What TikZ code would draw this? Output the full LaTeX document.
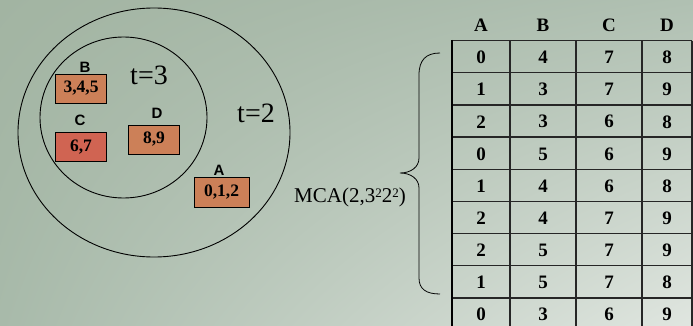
\documentclass[tikz,border=0pt]{standalone}
\usepackage{fontspec}
\setmainfont{Liberation Serif}
\newfontfamily\arialf{Liberation Sans}
\usetikzlibrary{shapes.geometric,shadings}
\definecolor{boxor}{RGB}{204,128,88}
\definecolor{boxred}{RGB}{208,100,82}
\definecolor{bgul}{RGB}{162,180,162}
\definecolor{bgur}{RGB}{176,192,178}
\definecolor{bgll}{RGB}{168,186,170}
\definecolor{bglr}{RGB}{224,230,224}
\newcommand{\supnum}[1]{\raisebox{0.5ex}{\fontsize{13}{13}\selectfont #1}}
\tikzset{
  ring/.style={draw, ellipse, line width=0.9pt, inner sep=0pt},
  valbox/.style={draw, line width=0.9pt, fill=boxor, minimum width=51pt, minimum height=29pt, inner sep=0pt, font=\fontsize{17.5}{17.5}\selectfont\bfseries},
  setlabel/.style={font=\arialf\fontsize{15}{15}\selectfont\bfseries, inner sep=0pt},
  tlabel/.style={font=\fontsize{28}{28}\selectfont, inner sep=0pt},
  cell/.style={font=\fontsize{19}{19}\selectfont\bfseries, inner sep=0pt},
  grid/.style={line width=1.3pt, black!85}
}
\begin{document}
\begin{tikzpicture}[x=1pt,y=-1pt]
\shade[upper left=bgul, upper right=bgur, lower left=bgll, lower right=bglr] (0,0) rectangle (693,326);
\useasboundingbox (0,0) rectangle (693,326);
% circles
\node[ring, minimum width=272pt, minimum height=249pt] (outer) at (154,132.5) {};
\node[ring, minimum width=167pt, minimum height=161pt] (inner) at (123.5,117.5) {};
\node[tlabel] (t3) at (149,75) {t=3};
\node[tlabel] (t2) at (256,113) {t=2};
% boxes
\node[valbox] (bB) at (81,88.5) {3,4,5};
\node[valbox, fill=boxred] (bC) at (81,147) {6,7};
\node[valbox] (bD) at (154,139.5) {8,9};
\node[valbox, minimum width=55pt, minimum height=30pt] (bA) at (221.5,192) {0,1,2};
\node[setlabel] (lB) at (85,67) {B};
\node[setlabel] (lC) at (80,120) {C};
\node[setlabel] (lD) at (157,113) {D};
\node[setlabel] (lA) at (219,170) {A};
% MCA label
\node[font=\fontsize{21}{21}\selectfont, inner sep=0pt] (mca) at (350,197) {MCA(2,3\supnum{2}2\supnum{2})};
% brace
\draw[line width=0.8pt] (440,53) .. controls (426,53) and (419,60) .. (419,75) -- (419,158)
  .. controls (419,167) and (411,173) .. (400,173)
  .. controls (411,173) and (419,179) .. (419,188) -- (419,278)
  .. controls (419,289) and (426,294) .. (440,294);
% table header
\foreach \h/\x in {A/481,B/543,C/609,D/667}
  \node[cell] (h\h) at (\x,25) {\h};
% table grid
\foreach \k in {0,...,8}
  \draw[grid] (452,{40.7+32.15*\k}) -- (692,{40.7+32.15*\k});
\foreach \x in {510,576,642,692}
  \draw[grid] (\x,40.7) -- (\x,326);
\draw[line width=2pt] (452,40) -- (452,326);
% table cells
\foreach \r/\a/\b/\c/\d in {0/0/4/7/8,1/1/3/7/9,2/2/3/6/8,3/0/5/6/9,4/1/4/6/8,5/2/4/7/9,6/2/5/7/9,7/1/5/7/8,8/0/3/6/9}{
  \node[cell] (c\r a) at (481,{57.5+32.15*\r}) {\a};
  \node[cell] (c\r b) at (543,{57.5+32.15*\r}) {\b};
  \node[cell] (c\r c) at (609,{57.5+32.15*\r}) {\c};
  \node[cell] (c\r d) at (667,{57.5+32.15*\r}) {\d};
}
\end{tikzpicture}
\end{document}
